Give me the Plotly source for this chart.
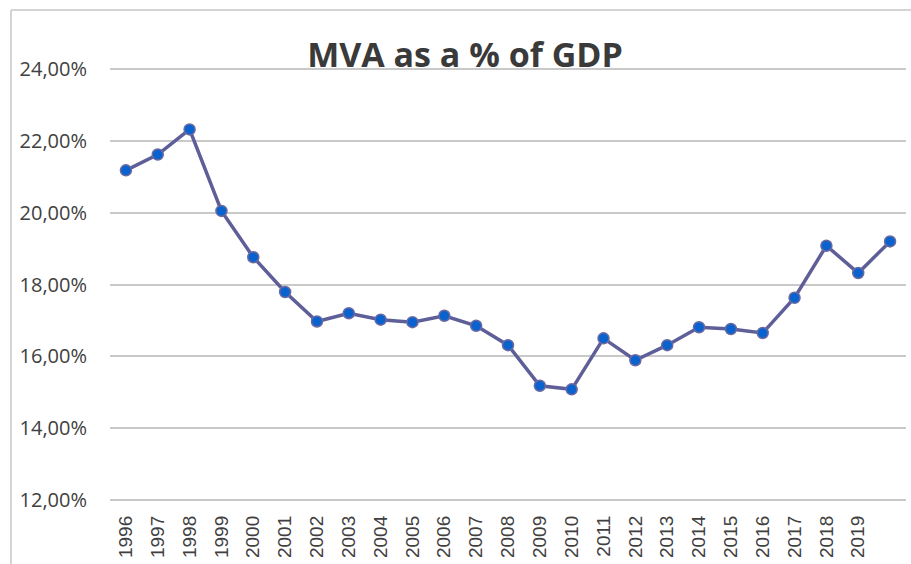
import plotly.graph_objects as go

# ---- data ----
year_labels = ["1996", "1997", "1998", "1999", "2000", "2001", "2002", "2003",
               "2004", "2005", "2006", "2007", "2008", "2009", "2010", "2011",
               "2012", "2013", "2014", "2015", "2016", "2017", "2018", "2019", ""]
mva_pct = [21.18, 21.62, 22.32, 20.05, 18.76, 17.79, 16.97, 17.20, 17.02, 16.95,
           17.13, 16.85, 16.31, 15.18, 15.08, 16.50, 15.89, 16.31, 16.81, 16.76,
           16.65, 17.63, 19.08, 18.32, 19.20]
y_ticks = [12, 14, 16, 18, 20, 22, 24]
y_tick_labels = ["12,00%", "14,00%", "16,00%", "18,00%", "20,00%", "22,00%", "24,00%"]
title_text = "MVA as a % of GDP"

# ---- layout constants ----
W, H = 911, 564
ML, MR, MT, MB = 110, 5, 68, 63
pw = W - ML - MR
ph = H - MT - MB
PAD = 0.03

idx = list(range(len(mva_pct)))

fig = go.Figure()
fig.add_trace(go.Scatter(
    x=idx, y=mva_pct, mode="lines+markers",
    line=dict(color="#5E5E98", width=3.5),
    marker=dict(color="#0A62CF", size=11, line=dict(color="#6A6AA0", width=1.5)),
    hoverinfo="skip", showlegend=False,
))

def px_x(p):
    return (p - ML) / pw

def px_y(p):
    return (H - MB - p) / ph

border = "#D4D4D4"
fig.add_shape(type="line", xref="paper", yref="paper",
              x0=px_x(11), x1=px_x(W + 5), y0=px_y(10), y1=px_y(10),
              line=dict(color=border, width=2))
fig.add_shape(type="line", xref="paper", yref="paper",
              x0=px_x(11), x1=px_x(11), y0=px_y(10), y1=px_y(H + 5),
              line=dict(color=border, width=2))

fig.update_layout(
    width=W, height=H,
    margin=dict(l=ML, r=MR, t=MT, b=MB, autoexpand=False),
    paper_bgcolor="white", plot_bgcolor="white",
    title=dict(text=title_text, x=465 / W, xanchor="center",
               y=1 - 55 / H, yanchor="middle", yref="container",
               font=dict(family="Open Sans", size=34, color="#3A3A3A", weight="bold")),
    xaxis=dict(range=[-0.5, len(mva_pct) - 0.5],
               tickmode="array", tickvals=idx, ticktext=year_labels,
               tickangle=-90, showgrid=False, showline=False, zeroline=False,
               ticks="", ticklabelstandoff=10,
               tickfont=dict(family="Liberation Sans", size=19, color="#404040")),
    yaxis=dict(range=[y_ticks[0] - PAD, y_ticks[-1] + PAD],
               tickmode="array", tickvals=y_ticks, ticktext=y_tick_labels,
               showgrid=True, gridcolor="#C9C9C9", gridwidth=2,
               showline=False, zeroline=False, ticks="", ticklabelstandoff=22,
               tickfont=dict(family="Open Sans", size=20, color="#404040")),
)

fig.write_html("out.html", config={"displayModeBar": False},
               post_script="document.body.style.margin='0';document.body.style.overflow='hidden';")
